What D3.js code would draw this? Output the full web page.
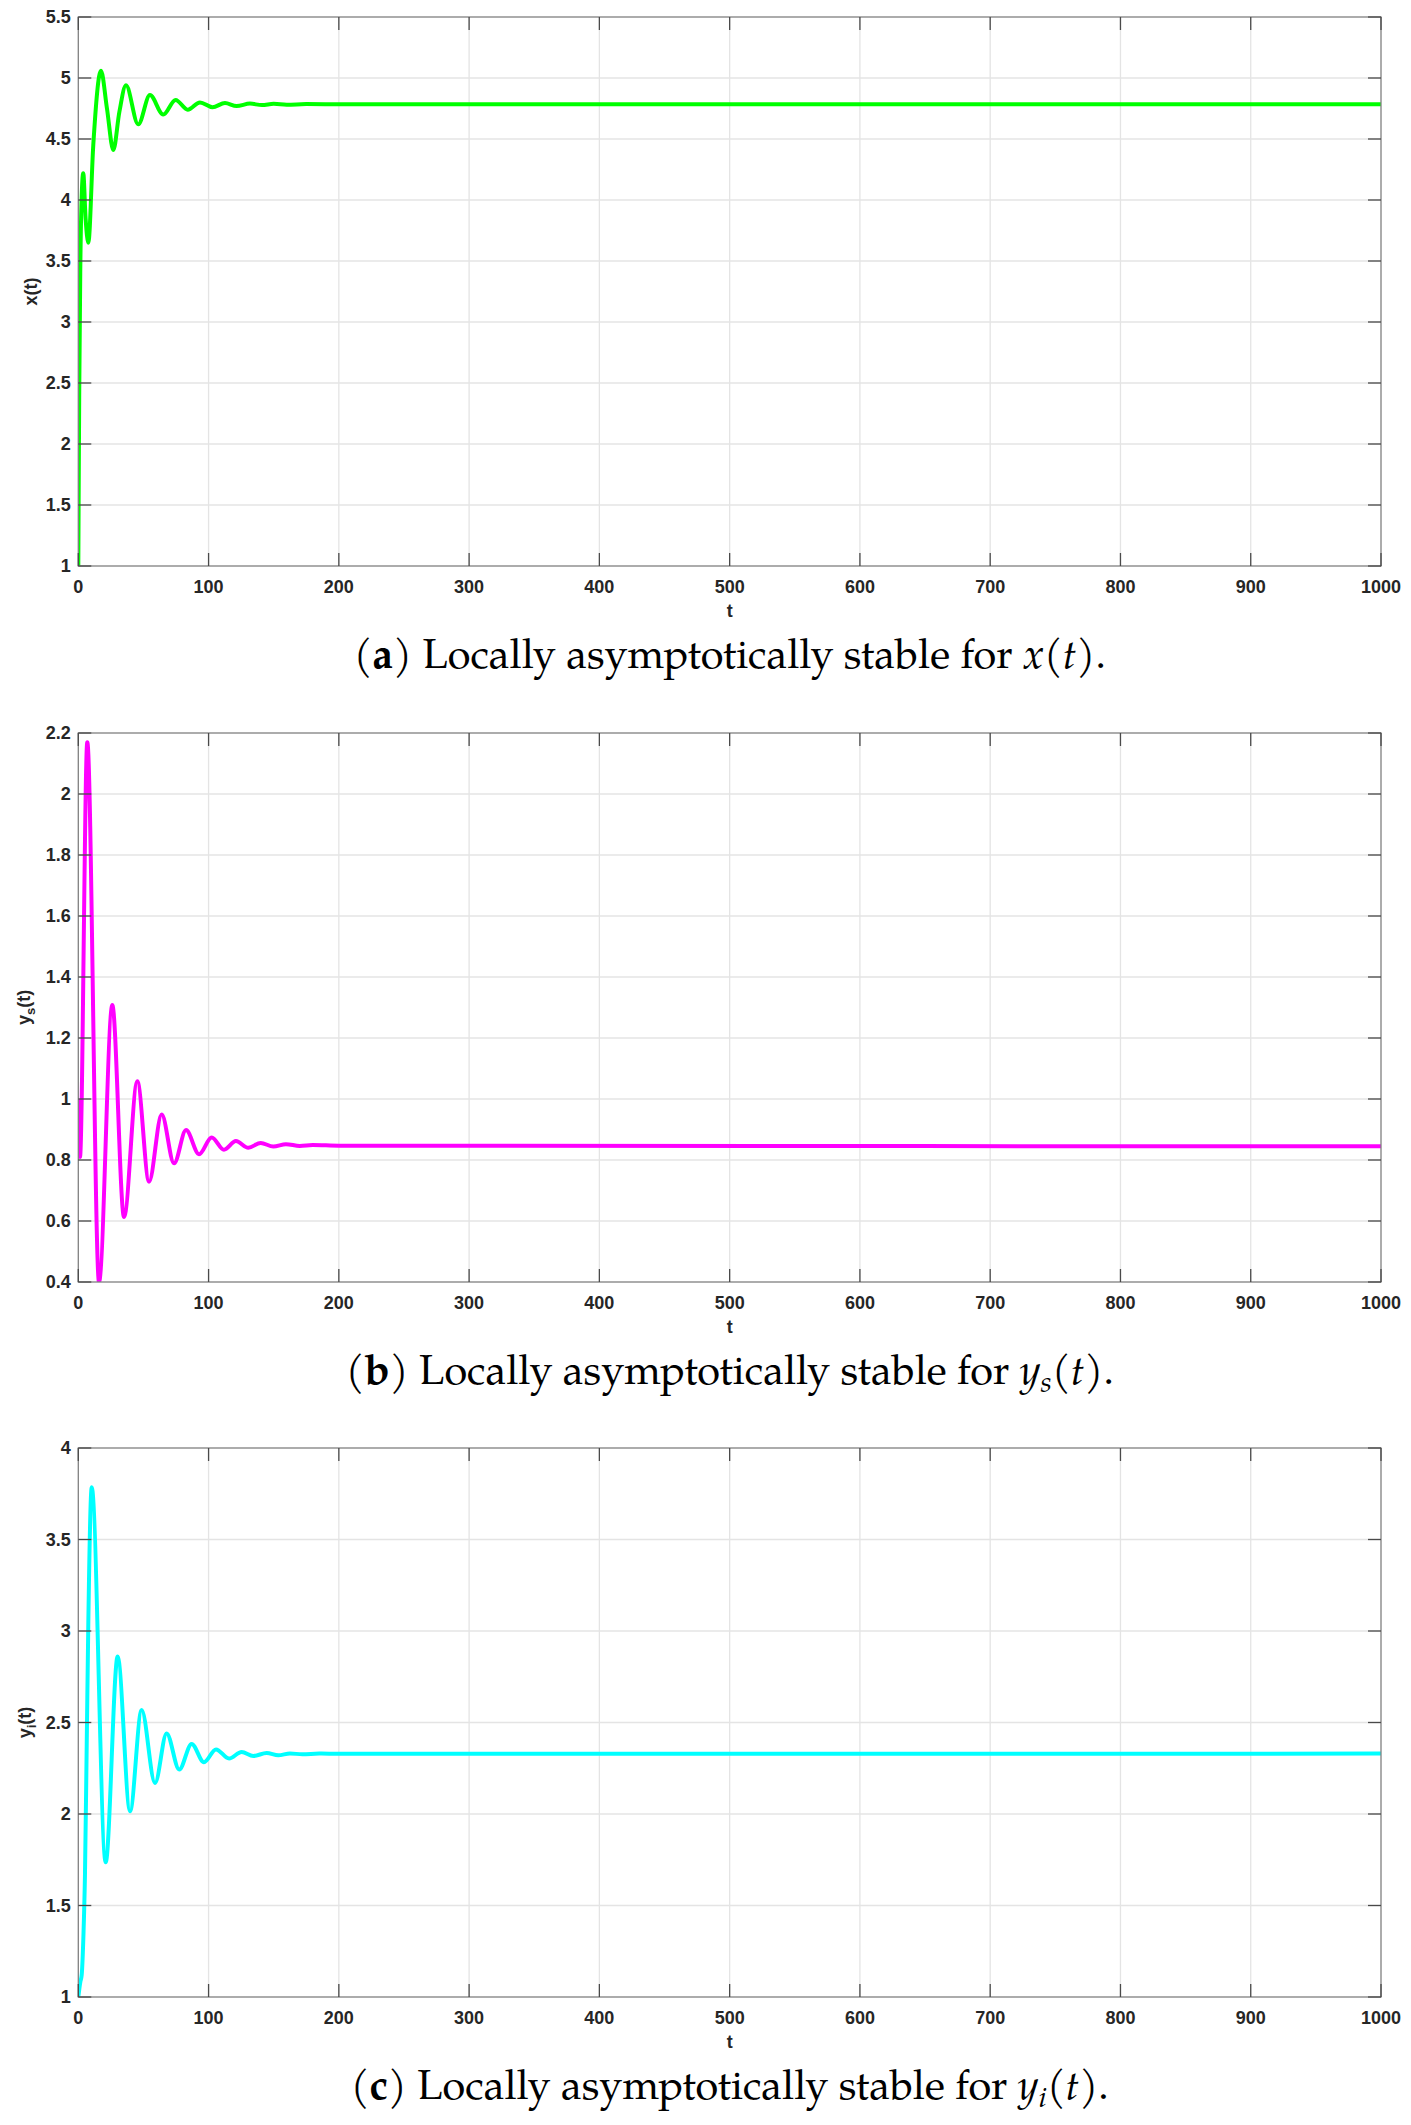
<!DOCTYPE html>
<html>
<head>
<meta charset="utf-8">
<script src="https://cdn.jsdelivr.net/npm/d3@7/dist/d3.min.js"></script>
<style>
  html, body { margin: 0; padding: 0; background: #ffffff; }
  svg { display: block; }
</style>
</head>
<body>
<svg id="chart" width="1411" height="2125"></svg>
<script>
// ---------------- DATA ----------------
const xTicks = [0, 100, 200, 300, 400, 500, 600, 700, 800, 900, 1000];

const yTicksA = [1, 1.5, 2, 2.5, 3, 3.5, 4, 4.5, 5, 5.5];
const yTicksB = [0.4, 0.6, 0.8, 1, 1.2, 1.4, 1.6, 1.8, 2, 2.2];
const yTicksC = [1, 1.5, 2, 2.5, 3, 3.5, 4];

// x(t)
const tA = [0, 0.7, 1.5, 2.5, 3.8, 5.6, 7.7, 11.5, 17.4, 22, 26.9, 31.5, 36.6, 46, 55, 65.2, 74.7, 84, 93.4, 103, 112.6, 121.5, 131.8, 141, 150, 160, 175, 200, 1000];
const xA = [1.0, 2.4, 3.4, 4.0, 4.22, 3.85, 3.65, 4.45, 5.06, 4.75, 4.41, 4.72, 4.94, 4.62, 4.86, 4.70, 4.82, 4.74, 4.80, 4.76, 4.795, 4.77, 4.79, 4.778, 4.788, 4.781, 4.786, 4.784, 4.785];

// y_s(t)
const tB = [0, 1.3, 6.9, 15.9, 26.1, 35.1, 45.3, 54.3, 64, 73.5, 82.7, 92.7, 102.4, 111.8, 121, 130.5, 140, 149.7, 159.4, 170, 180, 200, 1000];
const yS = [1.0, 0.81, 2.17, 0.40, 1.308, 0.613, 1.058, 0.729, 0.949, 0.789, 0.898, 0.819, 0.874, 0.834, 0.862, 0.840, 0.856, 0.844, 0.852, 0.846, 0.849, 0.847, 0.845];

// y_i(t)
const tC = [0, 1.5, 2.6, 4, 5.1, 6.5, 7.7, 10.3, 21, 30.2, 39.7, 48.6, 58.9, 67.8, 77.5, 87, 96.5, 105.7, 115.7, 125.4, 134.3, 144.6, 153.5, 162.5, 172, 185, 200, 1000];
const yI = [1.0, 1.08, 1.12, 1.35, 1.66, 2.4, 3.05, 3.785, 1.736, 2.86, 2.015, 2.568, 2.17, 2.44, 2.243, 2.383, 2.283, 2.353, 2.303, 2.339, 2.317, 2.333, 2.321, 2.331, 2.326, 2.330, 2.329, 2.33];

// ---------------- LAYOUT ----------------
const svg = d3.select("#chart");
const plotLeft = 78.3, plotRight = 1381;
const plotH = 549;
const tickLen = 13;
const sansFont = "'Liberation Sans', Arial, Helvetica, sans-serif";
const serifFont = "'Palatino Linotype', Palatino, 'TeX Gyre Pagella', 'Liberation Serif', 'Times New Roman', serif";

const panels = [
  { top: 17,   t: tA, v: xA, yDomain: [1, 5.5], yTicks: yTicksA, color: "#00ff00", ylab: ["x", null], ylabX: 37,  letter: "a", cap: ["x", null] },
  { top: 733,  t: tB, v: yS, yDomain: [0.4, 2.2], yTicks: yTicksB, color: "#ff00ff", ylab: ["y", "s"], ylabX: 29.5, letter: "b", cap: ["y", "s"] },
  { top: 1448, t: tC, v: yI, yDomain: [1, 4], yTicks: yTicksC, color: "#00ffff", ylab: ["y", "i"], ylabX: 31, letter: "c", cap: ["y", "i"] }
];

const fmt = d3.format("~g");

panels.forEach((p, idx) => {
  const bottom = p.top + plotH;
  const x = d3.scaleLinear().domain([0, 1000]).range([plotLeft, plotRight]);
  const y = d3.scaleLinear().domain(p.yDomain).range([bottom, p.top]);
  const g = svg.append("g");

  // grid
  g.append("g").selectAll("line").data(xTicks.slice(1, -1)).join("line")
    .attr("x1", d => x(d)).attr("x2", d => x(d))
    .attr("y1", p.top).attr("y2", bottom)
    .attr("stroke", "#e4e4e4").attr("stroke-width", 1.3);
  g.append("g").selectAll("line").data(p.yTicks.slice(1, -1)).join("line")
    .attr("x1", plotLeft).attr("x2", plotRight)
    .attr("y1", d => y(d)).attr("y2", d => y(d))
    .attr("stroke", "#e4e4e4").attr("stroke-width", 1.3);

  // clip
  const clipId = "clip" + idx;
  svg.append("defs").append("clipPath").attr("id", clipId)
    .append("rect").attr("x", plotLeft).attr("y", p.top)
    .attr("width", plotRight - plotLeft).attr("height", plotH);

  // data line
  const pts = p.t.map((t, i) => [t, p.v[i]]);
  const line = d3.line().x(d => x(d[0])).y(d => y(d[1])).curve(d3.curveMonotoneX);
  g.append("path").datum(pts)
    .attr("d", line)
    .attr("fill", "none")
    .attr("stroke", p.color)
    .attr("stroke-width", 4)
    .attr("stroke-linejoin", "round")
    .attr("clip-path", `url(#${clipId})`);

  // frame
  g.append("rect").attr("x", plotLeft).attr("y", p.top)
    .attr("width", plotRight - plotLeft).attr("height", plotH)
    .attr("fill", "none").attr("stroke", "#808080").attr("stroke-width", 1.3);

  // ticks (inward, all four sides)
  const tk = g.append("g").attr("stroke", "#4a4a4a").attr("stroke-width", 1.3);
  tk.append("g").selectAll("line").data(xTicks).join("line")
    .attr("x1", d => x(d)).attr("x2", d => x(d)).attr("y1", bottom).attr("y2", bottom - tickLen);
  tk.append("g").selectAll("line").data(xTicks).join("line")
    .attr("x1", d => x(d)).attr("x2", d => x(d)).attr("y1", p.top).attr("y2", p.top + tickLen);
  tk.append("g").selectAll("line").data(p.yTicks).join("line")
    .attr("x1", plotLeft).attr("x2", plotLeft + tickLen).attr("y1", d => y(d)).attr("y2", d => y(d));
  tk.append("g").selectAll("line").data(p.yTicks).join("line")
    .attr("x1", plotRight).attr("x2", plotRight - tickLen).attr("y1", d => y(d)).attr("y2", d => y(d));

  // tick labels
  g.append("g").selectAll("text").data(xTicks).join("text")
    .attr("x", d => x(d)).attr("y", bottom + 26.5)
    .attr("text-anchor", "middle")
    .attr("font-family", sansFont).attr("font-weight", "bold").attr("font-size", 18)
    .attr("fill", "#262626")
    .text(d => fmt(d));
  g.append("g").selectAll("text").data(p.yTicks).join("text")
    .attr("x", plotLeft - 7.5).attr("y", d => y(d)).attr("dy", "0.36em")
    .attr("text-anchor", "end")
    .attr("font-family", sansFont).attr("font-weight", "bold").attr("font-size", 18)
    .attr("fill", "#262626")
    .text(d => fmt(d));

  // x label
  g.append("text").attr("x", x(500)).attr("y", bottom + 51)
    .attr("text-anchor", "middle")
    .attr("font-family", sansFont).attr("font-weight", "bold").attr("font-size", 18)
    .attr("fill", "#262626").text("t");

  // y label
  const cy = p.top + plotH / 2;
  const yl = g.append("text")
    .attr("transform", `translate(${p.ylabX},${cy}) rotate(-90)`)
    .attr("text-anchor", "middle")
    .attr("font-family", sansFont).attr("font-weight", "bold").attr("font-size", 18)
    .attr("fill", "#262626");
  yl.append("tspan").text(p.ylab[0]);
  if (p.ylab[1]) {
    yl.append("tspan").attr("font-size", 13).attr("dy", 5).text(p.ylab[1]);
    yl.append("tspan").attr("dy", -5).text("(t)");
  } else {
    yl.append("tspan").text("(t)");
  }

  // caption
  const cap = g.append("text").attr("x", x(500)).attr("y", bottom + 102)
    .attr("text-anchor", "middle")
    .attr("font-family", serifFont).attr("font-size", 41.5)
    .attr("fill", "#000");
  cap.append("tspan").text("(");
  cap.append("tspan").attr("font-weight", "bold").text(p.letter);
  cap.append("tspan").text(") Locally asymptotically stable for ");
  cap.append("tspan").attr("font-style", "italic").text(p.cap[0]);
  if (p.cap[1]) {
    cap.append("tspan").attr("font-style", "italic").attr("font-size", 29).attr("dy", 8).text(p.cap[1]);
    cap.append("tspan").attr("dy", -8).text("(");
  } else {
    cap.append("tspan").text("(");
  }
  cap.append("tspan").attr("font-style", "italic").text("t");
  cap.append("tspan").text(").");
});
</script>
</body>
</html>
